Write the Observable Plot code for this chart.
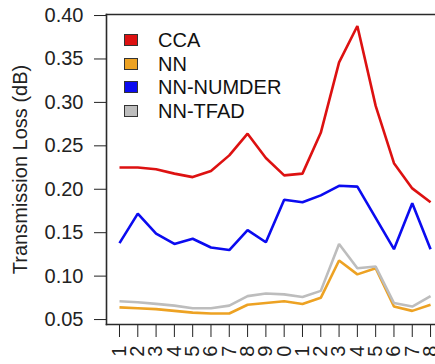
<!DOCTYPE html>
<html>
<head>
<meta charset="utf-8">
<script src="https://cdn.jsdelivr.net/npm/d3@7"></script>
<script src="https://cdn.jsdelivr.net/npm/@observablehq/plot@0.6"></script>
<style>
  html, body { margin: 0; padding: 0; background: #fff; overflow: hidden; }
  #chart { position: relative; width: 435px; height: 364px; overflow: hidden;
           font-family: "Liberation Sans", Arial, Helvetica, sans-serif; }
  #chart svg { display: block; }
  .legend { position: absolute; left: 124px; top: 28px; font-size: 20px; color: #111; line-height: 1; }
  .legend .row { height: 23.7px; display: flex; align-items: center; }
  .legend .sw { width: 14px; height: 12px; border: 1px solid #333; box-sizing: border-box; margin-right: 20px; }
</style>
</head>
<body>
<div id="chart"></div>
<script>
// Test case numbers along the x axis, labelled by their last digit
const sampleIds = [1, 2, 3, 4, 5, 6, 7, 8, 9, 10, 11, 12, 13, 14, 15, 16, 17, 18];
const xLabels = ["1", "2", "3", "4", "5", "6", "7", "8", "9", "0", "1", "2", "3", "4", "5", "6", "7", "8"];
const yTicks = [0.05, 0.10, 0.15, 0.20, 0.25, 0.30, 0.35, 0.40];
const yTitle = "Transmission Loss (dB)";

// Series names and colours, in legend order
const seriesNames = ["CCA", "NN", "NN-NUMDER", "NN-TFAD"];
const seriesColors = ["#dd1111", "#eda223", "#0b0bf0", "#bdbdbd"];

// Transmission loss (dB) per test case
const cca      = [0.225, 0.225, 0.223, 0.218, 0.214, 0.221, 0.239, 0.264, 0.236, 0.216, 0.218, 0.265, 0.346, 0.388, 0.296, 0.230, 0.201, 0.185];
const nn       = [0.064, 0.063, 0.062, 0.060, 0.058, 0.057, 0.057, 0.067, 0.069, 0.071, 0.068, 0.075, 0.118, 0.102, 0.109, 0.065, 0.060, 0.067];
const nnNumder = [0.138, 0.172, 0.149, 0.137, 0.143, 0.133, 0.130, 0.153, 0.139, 0.188, 0.185, 0.193, 0.204, 0.203, 0.167, 0.131, 0.184, 0.131];
const nnTfad   = [0.071, 0.070, 0.068, 0.066, 0.063, 0.063, 0.066, 0.077, 0.080, 0.079, 0.076, 0.083, 0.137, 0.109, 0.111, 0.069, 0.065, 0.077];

const seriesValues = [cca, nn, nnNumder, nnTfad];
const rows = seriesNames.flatMap((name, s) =>
  sampleIds.map((id, i) => ({series: name, id, value: seriesValues[s][i]})));

const frameStyle = {stroke: "#2a2a2a", strokeWidth: 1.6};

const chart = Plot.plot({
  width: 435,
  height: 364,
  marginLeft: 106,
  marginRight: 0,
  marginTop: 14,
  marginBottom: 40,
  style: {fontFamily: '"Liberation Sans", Arial, Helvetica, sans-serif', fontSize: "20px", color: "#222", background: "#fff"},
  x: {domain: [0.29, 18.27]},
  y: {domain: [0.0443, 0.4012]},
  color: {domain: seriesNames, range: seriesColors},
  marks: [
    Plot.axisY({ticks: yTicks, tickFormat: d3.format(".2f"), tickSize: 12, tickPadding: 11, label: null}),
    Plot.axisX({ticks: sampleIds, tickFormat: d => xLabels[d - 1], tickSize: 13, tickPadding: 8,
                tickRotate: -90, label: null}),
    // y axis title, rotated and centred on the plot's height
    Plot.text([yTitle], {frameAnchor: "left", text: d => d, rotate: -90, dx: -85.5,
                         textAnchor: "middle", fill: "#222"}),
    Plot.line(rows, {x: "id", y: "value", z: "series", stroke: "series", strokeWidth: 2.6,
                     strokeLinejoin: "miter", strokeLinecap: "butt"}),
    Plot.frame({anchor: "top", ...frameStyle}),
    Plot.frame({anchor: "left", ...frameStyle}),
    Plot.frame({anchor: "bottom", ...frameStyle})
  ]
});

const host = document.getElementById("chart");
host.appendChild(chart);

// Legend drawn inside the plot area, top left
const legend = document.createElement("div");
legend.className = "legend";
seriesNames.forEach((name, i) => {
  const row = document.createElement("div");
  row.className = "row";
  const sw = document.createElement("span");
  sw.className = "sw";
  sw.style.background = seriesColors[i];
  const label = document.createElement("span");
  label.textContent = name;
  row.appendChild(sw);
  row.appendChild(label);
  legend.appendChild(row);
});
host.appendChild(legend);
</script>
</body>
</html>
